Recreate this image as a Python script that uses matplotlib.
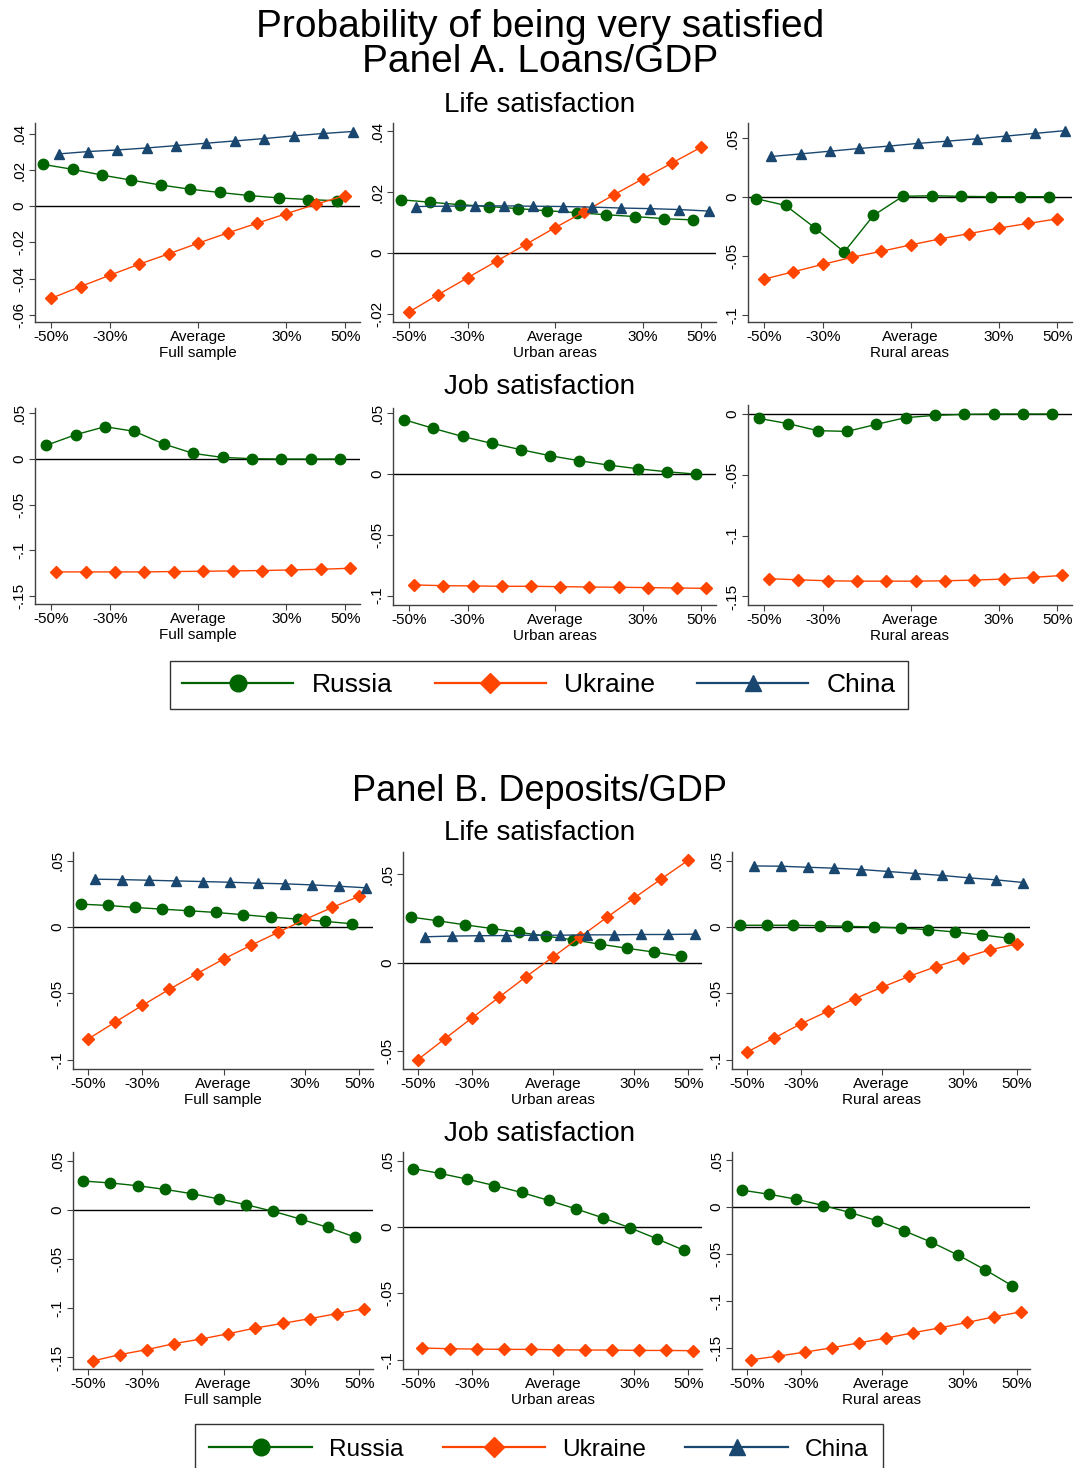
import matplotlib.pyplot as plt
from matplotlib.lines import Line2D

plt.rcParams['font.family'] = ['Liberation Sans', 'DejaVu Sans']

W, H = 1076, 1468

levels = [-50, -40, -30, -20, -10, 0, 10, 20, 30, 40, 50]
xticks = [-50, -30, 0, 30, 50]
xticklabels = ['-50%', '-30%', 'Average', '30%', '50%']
countries = ['Russia', 'Ukraine', 'China']

# Panel A. Loans/GDP -- life satisfaction
a_life_full_rus = [0.0231, 0.0204, 0.0172, 0.0144, 0.0117, 0.0094, 0.0076, 0.0059, 0.0046, 0.0037, 0.0030]
a_life_full_ukr = [-0.0509, -0.0444, -0.0381, -0.0320, -0.0263, -0.0204, -0.0148, -0.0094, -0.0041, 0.0011, 0.0059]
a_life_full_chn = [0.0289, 0.0302, 0.0311, 0.0322, 0.0335, 0.0348, 0.0361, 0.0374, 0.0389, 0.0402, 0.0413]
a_life_urban_rus = [0.0175, 0.0167, 0.0159, 0.0153, 0.0146, 0.0139, 0.0133, 0.0126, 0.0120, 0.0113, 0.0109]
a_life_urban_ukr = [-0.0193, -0.0136, -0.0081, -0.0026, 0.0029, 0.0084, 0.0136, 0.0191, 0.0244, 0.0296, 0.0348]
a_life_urban_chn = [0.0153, 0.0154, 0.0155, 0.0155, 0.0154, 0.0153, 0.0151, 0.0148, 0.0146, 0.0143, 0.0138]
a_life_rural_rus = [-0.0014, -0.0071, -0.0261, -0.0466, -0.0156, 0.0006, 0.0011, 0.0006, 0.0003, 0.0003, 0.0003]
a_life_rural_ukr = [-0.0696, -0.0634, -0.0571, -0.0511, -0.0460, -0.0406, -0.0355, -0.0310, -0.0264, -0.0224, -0.0185]
a_life_rural_chn = [0.0344, 0.0366, 0.0389, 0.0412, 0.0432, 0.0455, 0.0474, 0.0494, 0.0517, 0.0540, 0.0563]

# Panel A -- job satisfaction (no China)
a_job_full_rus = [0.0150, 0.0267, 0.0355, 0.0304, 0.0165, 0.0062, 0.0018, 0.0004, 0.0, 0.0, 0.0]
a_job_full_ukr = [-0.1238, -0.1238, -0.1238, -0.1238, -0.1234, -0.1231, -0.1227, -0.1223, -0.1216, -0.1209, -0.1198]
a_job_urban_rus = [0.0448, 0.0376, 0.0310, 0.0253, 0.0201, 0.0151, 0.0110, 0.0074, 0.0044, 0.0019, 0.0]
a_job_urban_ukr = [-0.0912, -0.0918, -0.0920, -0.0923, -0.0923, -0.0926, -0.0929, -0.0931, -0.0934, -0.0937, -0.0940]
a_job_rural_rus = [-0.0036, -0.0080, -0.0137, -0.0143, -0.0085, -0.0030, -0.0011, -0.0003, 0.0, 0.0, 0.0]
a_job_rural_ukr = [-0.1354, -0.1363, -0.1371, -0.1374, -0.1374, -0.1374, -0.1371, -0.1365, -0.1357, -0.1343, -0.1327]

# Panel B. Deposits/GDP -- life satisfaction
b_life_full_rus = [0.0173, 0.0163, 0.0148, 0.0135, 0.0123, 0.0110, 0.0093, 0.0075, 0.0060, 0.0043, 0.0025]
b_life_full_ukr = [-0.0845, -0.0717, -0.0591, -0.0469, -0.0353, -0.0241, -0.0138, -0.0040, 0.0058, 0.0148, 0.0233]
b_life_full_chn = [0.0361, 0.0358, 0.0353, 0.0348, 0.0343, 0.0338, 0.0331, 0.0326, 0.0318, 0.0308, 0.0296]
b_life_urban_rus = [0.0258, 0.0237, 0.0214, 0.0193, 0.0172, 0.0150, 0.0129, 0.0104, 0.0081, 0.0059, 0.0036]
b_life_urban_ukr = [-0.0551, -0.0432, -0.0314, -0.0197, -0.0080, 0.0032, 0.0146, 0.0258, 0.0367, 0.0475, 0.0581]
b_life_urban_chn = [0.0146, 0.0150, 0.0152, 0.0153, 0.0155, 0.0155, 0.0157, 0.0157, 0.0159, 0.0159, 0.0161]
b_life_rural_rus = [0.0013, 0.0013, 0.0013, 0.0010, 0.0005, 0.0, -0.0008, -0.0020, -0.0038, -0.0060, -0.0085]
b_life_rural_ukr = [-0.0943, -0.0838, -0.0730, -0.0635, -0.0540, -0.0455, -0.0373, -0.0300, -0.0235, -0.0173, -0.0128]
b_life_rural_chn = [0.0460, 0.0458, 0.0450, 0.0443, 0.0433, 0.0418, 0.0403, 0.0388, 0.0370, 0.0355, 0.0335]

# Panel B -- job satisfaction
b_job_full_rus = [0.0295, 0.0275, 0.0247, 0.0210, 0.0166, 0.0112, 0.0054, -0.0014, -0.0092, -0.0176, -0.0275]
b_job_full_ukr = [-0.1536, -0.1471, -0.1420, -0.1359, -0.1312, -0.1258, -0.1200, -0.1153, -0.1105, -0.1054, -0.1003]
b_job_urban_rus = [0.0441, 0.0404, 0.0361, 0.0313, 0.0261, 0.0201, 0.0138, 0.0070, -0.0005, -0.0088, -0.0175]
b_job_urban_ukr = [-0.0912, -0.0917, -0.0920, -0.0922, -0.0922, -0.0925, -0.0927, -0.0927, -0.0930, -0.0930, -0.0932]
b_job_rural_rus = [0.0181, 0.0138, 0.0085, 0.0018, -0.0057, -0.0145, -0.0252, -0.0372, -0.0511, -0.0667, -0.0837]
b_job_rural_ukr = [-0.1628, -0.1589, -0.1546, -0.1500, -0.1447, -0.1397, -0.1340, -0.1287, -0.1230, -0.1170, -0.1117]

styles = {
    'Russia': dict(color='#006400', marker='o', ms=7.5),
    'Ukraine': dict(color='#FF4500', marker='D', ms=6.5),
    'China': dict(color='#1A476F', marker='^', ms=7.5),
}
shift3 = {'Russia': -2.7, 'Ukraine': 0.0, 'China': 2.5}
shift2 = {'Russia': -1.7, 'Ukraine': 1.7}

# (left, top, right, bottom) in pixels, sample label, y ticks, y limits, series
panels = [
    ((35, 123, 360, 322), 'Full sample', [.04, .02, 0, -.02, -.04, -.06], (-0.064, 0.046),
     [a_life_full_rus, a_life_full_ukr, a_life_full_chn]),
    ((393, 123, 716, 322), 'Urban areas', [.04, .02, 0, -.02], (-0.0226, 0.0427),
     [a_life_urban_rus, a_life_urban_ukr, a_life_urban_chn]),
    ((748, 123, 1072, 322), 'Rural areas', [.05, 0, -.05, -.1], (-0.106, 0.0628),
     [a_life_rural_rus, a_life_rural_ukr, a_life_rural_chn]),
    ((35, 408, 360, 604), 'Full sample', [.05, 0, -.05, -.1, -.15], (-0.159, 0.056),
     [a_job_full_rus, a_job_full_ukr]),
    ((393, 408, 716, 605), 'Urban areas', [.05, 0, -.05, -.1], (-0.1077, 0.0544),
     [a_job_urban_rus, a_job_urban_ukr]),
    ((748, 405, 1072, 605), 'Rural areas', [0, -.05, -.1, -.15], (-0.157, 0.0074),
     [a_job_rural_rus, a_job_rural_ukr]),
    ((73, 852, 373, 1069), 'Full sample', [.05, 0, -.05, -.1], (-0.107, 0.0566),
     [b_life_full_rus, b_life_full_ukr, b_life_full_chn]),
    ((403, 852, 702, 1069), 'Urban areas', [.05, 0, -.05], (-0.0604, 0.0627),
     [b_life_urban_rus, b_life_urban_ukr, b_life_urban_chn]),
    ((732, 852, 1030, 1069), 'Rural areas', [.05, 0, -.05, -.1], (-0.107, 0.0565),
     [b_life_rural_rus, b_life_rural_ukr, b_life_rural_chn]),
    ((73, 1152, 373, 1369), 'Full sample', [.05, 0, -.05, -.1, -.15], (-0.1617, 0.059),
     [b_job_full_rus, b_job_full_ukr]),
    ((403, 1152, 702, 1369), 'Urban areas', [.05, 0, -.05, -.1], (-0.107, 0.0566),
     [b_job_urban_rus, b_job_urban_ukr]),
    ((732, 1152, 1030, 1369), 'Rural areas', [.05, 0, -.05, -.1, -.15], (-0.1727, 0.0589),
     [b_job_rural_rus, b_job_rural_ukr]),
]


def stata_fmt(v):
    s = f"{v:g}"
    return s.replace('-0.', '-.').replace('0.', '.') if v != 0 else '0'


fig = plt.figure(figsize=(W / 100, H / 100), dpi=100)

for (l, t, r, b), sample, yt, ylim, series in panels:
    ax = fig.add_axes([l / W, 1 - b / H, (r - l) / W, (b - t) / H])
    ax.axhline(0, color='black', lw=1.0, zorder=1)
    shift = shift3 if len(series) == 3 else shift2
    for name, y in zip(countries, series):
        st = styles[name]
        xs = [v + shift[name] for v in levels]
        ax.plot(xs, y, color=st['color'], lw=1.0, marker=st['marker'], ms=st['ms'],
                mec=st['color'], mfc=st['color'], zorder=3)
    ax.set_xlim(-55.5, 55)
    ax.set_ylim(*ylim)
    ax.set_xticks(xticks)
    ax.set_xticklabels(xticklabels, fontsize=11)
    ax.set_yticks(yt)
    ax.set_yticklabels([stata_fmt(v) for v in yt], fontsize=11, rotation=90, va='center')
    ax.set_xlabel(sample, fontsize=11, labelpad=1)
    for side in ['top', 'right']:
        ax.spines[side].set_visible(False)
    for side in ['left', 'bottom']:
        ax.spines[side].set_color('#404040')
        ax.spines[side].set_linewidth(1.0)
    ax.tick_params(direction='out', length=4, width=0.8, color='#404040', pad=2)

# titles
def ftext(x, y, s, size):
    fig.text(x / W, 1 - y / H, s, ha='center', va='center', fontsize=size)

ftext(540, 27, 'Probability of being very satisfied', 28)
ftext(540, 62, 'Panel A. Loans/GDP', 28)
ftext(540, 105, 'Life satisfaction', 20)
ftext(540, 387, 'Job satisfaction', 20)
ftext(540, 791, 'Panel B. Deposits/GDP', 26)
ftext(540, 833, 'Life satisfaction', 20)
ftext(540, 1134, 'Job satisfaction', 20)

handles = [Line2D([0], [0], color=styles[c]['color'], lw=1.6, marker=styles[c]['marker'],
                  ms=styles[c]['ms'] * 1.6) for c in countries]

for (ytop, size, pad) in [(661, 19, 0.45), (1424, 17.6, 0.6)]:
    leg = fig.legend(handles, countries, loc='upper center', ncol=3,
                     bbox_to_anchor=(539 / W, 1 - ytop / H), fontsize=size,
                     frameon=True, fancybox=False, handlelength=4.2,
                     handletextpad=0.7, columnspacing=1.6, borderpad=pad,
                     borderaxespad=0)
    leg.get_frame().set_edgecolor('black')
    leg.get_frame().set_linewidth(1.0)

fig.savefig('out.png', dpi=100)
